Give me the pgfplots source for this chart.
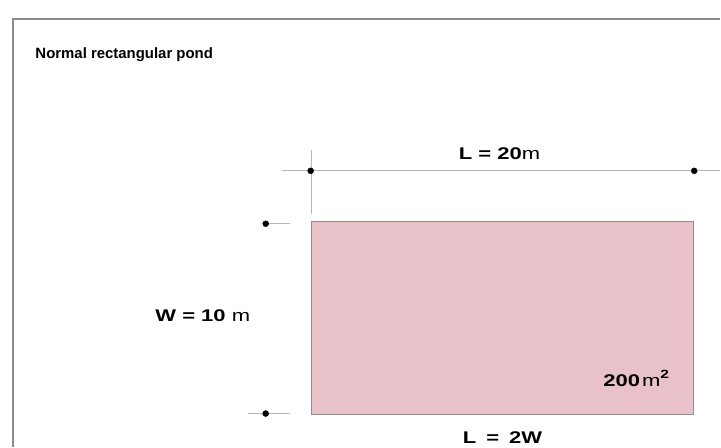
\documentclass[border=0pt]{standalone}
\usepackage{pgfplots}
\pgfplotsset{compat=1.18}
\usepackage{fontspec}
\setmainfont{Liberation Sans}
\newfontfamily\wide[FakeStretch=1.3]{Liberation Sans}
\definecolor{pondfill}{RGB}{232,194,200}
\definecolor{pondedge}{RGB}{150,138,140}
\definecolor{frame}{RGB}{140,140,140}
\definecolor{dimline}{RGB}{185,185,185}
\begin{document}
\begin{tikzpicture}
\begin{axis}[
  width=721bp, height=447bp, scale only axis,
  xmin=0, xmax=721, ymin=0, ymax=447, y dir=reverse,
  axis line style={draw=none}, ticks=none,
  clip=false,
]
\path (rel axis cs:0,0) rectangle (rel axis cs:1,1);
% frame
\addplot[frame, line width=1.6bp] coordinates {(13,447) (13,19) (721,19)};
% pond
\addplot[fill=pondfill, draw=pondedge, line width=1.2bp] coordinates {(312,222) (694,222) (694,415) (312,415)} -- cycle;
% dimension lines
\addplot[dimline, line width=0.8bp] coordinates {(282,171) (721,171)};
\addplot[dimline, line width=0.8bp] coordinates {(312,150) (312,214)};
\addplot[dimline, line width=0.8bp] coordinates {(266,224) (290,224)};
\addplot[dimline, line width=0.8bp] coordinates {(248,414) (290,414)};
% dots
\addplot[only marks, mark=*, mark size=3bp, black] coordinates {(311,171) (695,171) (266,224) (266,414)};
% labels
\node[anchor=west, font=\fontsize{15}{17}\selectfont\bfseries] at (axis cs:32,55) {Normal rectangular pond};
\node[font=\fontsize{17}{19}\selectfont\wide\bfseries] at (axis cs:500,154) {L = 20{\mdseries m}};
\node[font=\fontsize{17}{19}\selectfont\wide\bfseries] at (axis cs:203,316) {W = 10 {\mdseries m}};
\node[font=\fontsize{17}{19}\selectfont\wide\bfseries] at (axis cs:637,379) {200\hspace{2bp}{\mdseries m}\raisebox{0.45em}{\fontsize{12}{12}\selectfont 2}};
\node[font=\fontsize{17}{19}\selectfont\wide\bfseries] at (axis cs:503,438) {L\hspace{10bp}=\hspace{10bp}2W};
\end{axis}
\end{tikzpicture}
\end{document}
